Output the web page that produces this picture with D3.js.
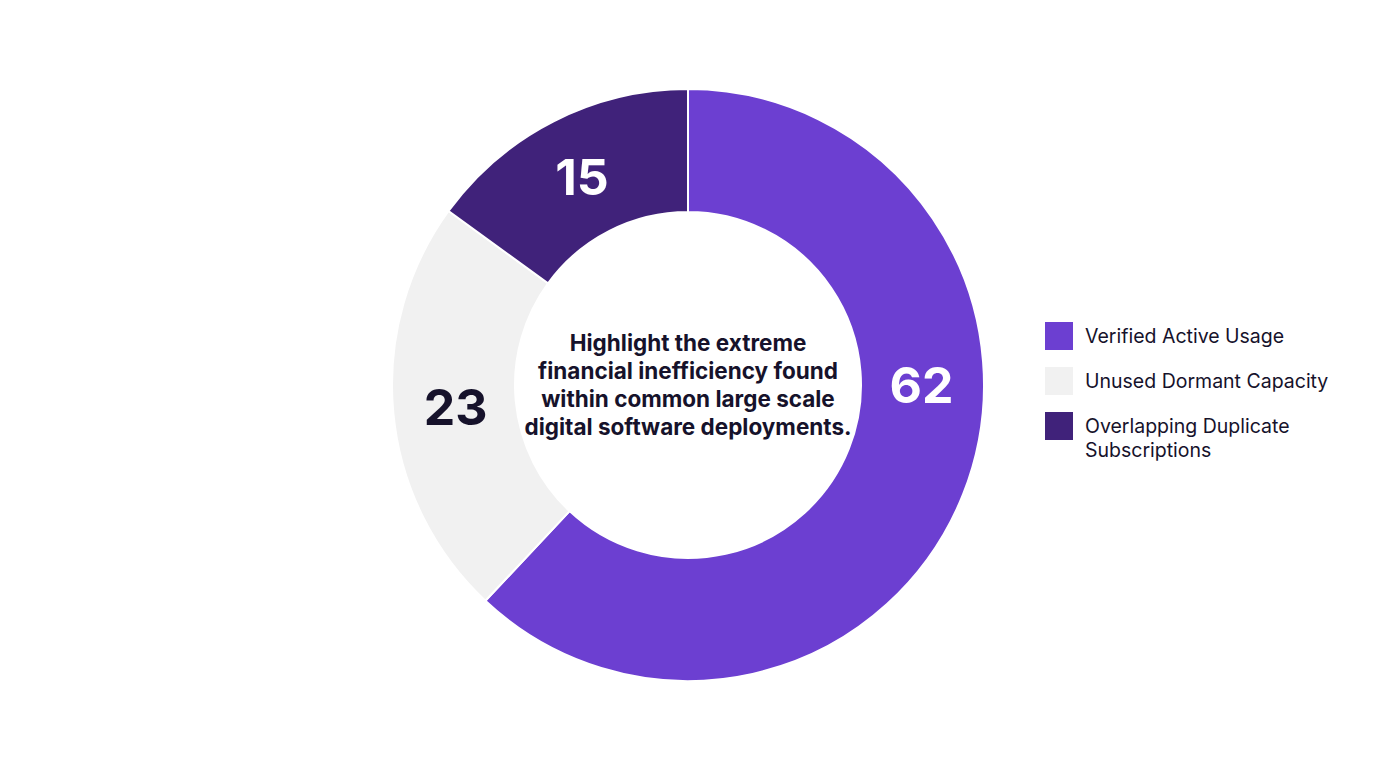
<!DOCTYPE html>
<html><head><meta charset="utf-8">
<script src="https://cdn.jsdelivr.net/npm/d3@7"></script>
<style>body{margin:0;background:#fff;}svg{display:block;font-family:Inter,"Noto Sans",sans-serif;}</style>
</head><body>
<svg id="c" width="1376" height="768"></svg>
<script>
const categories = ["Verified Active Usage", "Unused Dormant Capacity", "Overlapping Duplicate Subscriptions"];
const values = [62, 23, 15];
const colors = ["#6c3fd1", "#f1f1f1", "#40227a"];
const labelColors = ["#ffffff", "#16122b", "#ffffff"];
const centerLines = ["Highlight the extreme", "financial inefficiency found", "within common large scale", "digital software deployments."];
const legendLines = [["Verified Active Usage"], ["Unused Dormant Capacity"], ["Overlapping Duplicate", "Subscriptions"]];

const svg = d3.select("#c");
const cx = 688, cy = 385, rO = 296, rI = 173;
const g = svg.append("g").attr("transform", `translate(${cx},${cy})`);
const pie = d3.pie().sort(null).value(d => d)(values);
const arc = d3.arc().innerRadius(rI).outerRadius(rO);
g.selectAll("path").data(pie).join("path")
  .attr("d", arc).attr("fill", (d,i) => colors[i])
  .attr("stroke", "#fff").attr("stroke-width", 2);
const rL = (rI + rO) / 2 - 1;
function labelAngle(d){
  // large slices spanning the right side get their label at 3 o'clock
  if (d.startAngle <= Math.PI/2 && d.endAngle >= Math.PI/2 && (d.endAngle - d.startAngle) > Math.PI) return Math.PI/2;
  return (d.startAngle + d.endAngle) / 2;
}
g.selectAll("text.v").data(pie).join("text").attr("class","v")
  .attr("transform", d => { const a = labelAngle(d); return `translate(${rL*Math.sin(a)},${-rL*Math.cos(a)})`; })
  .attr("text-anchor","middle").attr("dy","0.36em")
  .attr("font-size", 50).attr("font-weight", 700)
  .attr("fill", (d,i) => labelColors[i])
  .text(d => d.data);
const ct = g.append("text").attr("text-anchor","middle")
  .attr("font-size", 22.5).attr("font-weight", 700).attr("fill", "#16122b");
centerLines.forEach((l,i) => ct.append("tspan").attr("x",0).attr("y", -42 + i*28 + 8).text(l));

const lg = svg.append("g").attr("transform","translate(1045,322)");
const rowY = [0, 45, 90];
legendLines.forEach((lines,i) => {
  const r = lg.append("g").attr("transform", `translate(0,${rowY[i]})`);
  r.append("rect").attr("width",28).attr("height",28).attr("fill", colors[i]);
  const t = r.append("text").attr("x", 40).attr("font-size", 19.5).attr("fill", "#16122b");
  lines.forEach((l,j) => t.append("tspan").attr("x",40).attr("y", 21 + j*24).text(l));
});
</script>
</body></html>
